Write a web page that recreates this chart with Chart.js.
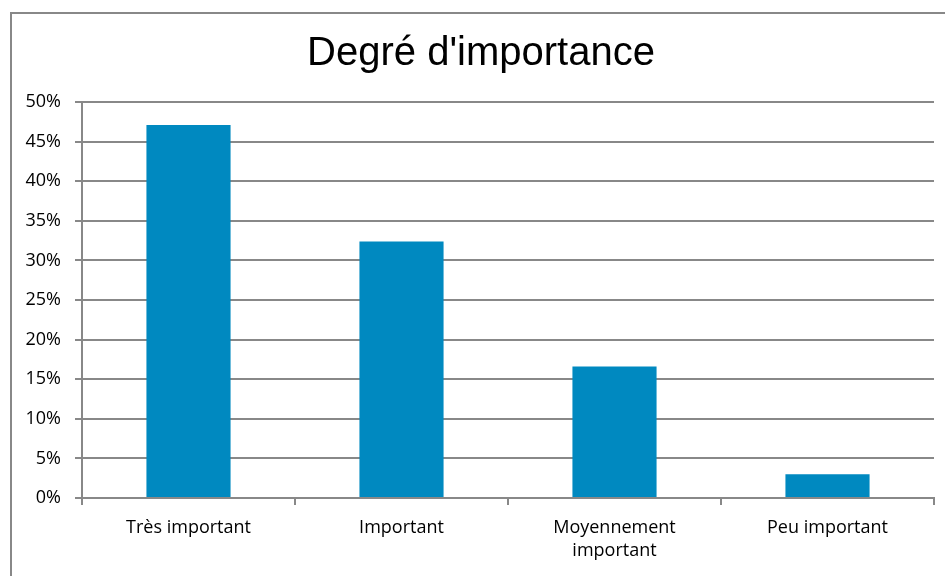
<!DOCTYPE html>
<html>
<head>
<meta charset="utf-8">
<script src="https://cdn.jsdelivr.net/npm/chart.js@4"></script>
<style>
  html, body { margin: 0; padding: 0; background: #fff; }
  #wrap { width: 945px; height: 576px; position: relative; }
</style>
</head>
<body>
<div id="wrap"><canvas id="chart"></canvas></div>
<script>
const categories = ['Très important', 'Important', ['Moyennement', 'important'], 'Peu important'];
const values = [47.1, 32.4, 16.6, 3.0];
const yTicks = [0, 5, 10, 15, 20, 25, 30, 35, 40, 45, 50];

const labelFont = { family: '"Open Sans", "Noto Sans", sans-serif', size: 18, lineHeight: 1.3 };

// outer frame of the chart, and nudge the title a bit to the right
const framePlugin = {
    id: 'frame',
    afterLayout(chart) {
        if (chart.titleBlock) {
            chart.titleBlock.left += 6;
            chart.titleBlock.right += 6;
        }
    },
    beforeDraw(chart) {
        const ctx = chart.ctx;
        ctx.save();
        ctx.strokeStyle = '#888888';
        ctx.lineWidth = 2;
        ctx.strokeRect(11, 13, 960, 600);
        ctx.restore();
    }
};

const config = {
    type: 'bar',
    data: {
        labels: categories,
        datasets: [{
            label: 'Degré d\'importance',
            data: values,
            backgroundColor: '#0089C0',
            borderWidth: 0,
            barPercentage: 0.395,
            categoryPercentage: 1
        }]
    },
    options: {
        responsive: true,
        maintainAspectRatio: false,
        animation: false,
        layout: { padding: { top: 0, left: 16, right: 11, bottom: 0 } },
        plugins: {
            legend: { display: false },
            tooltip: { enabled: false },
            title: {
                display: true,
                text: 'Degré d\'importance',
                color: '#000',
                font: { family: '"Liberation Sans", Arial, sans-serif', size: 40, weight: 'normal', lineHeight: 1.2 },
                padding: { top: 30, bottom: 24 }
            }
        },
        scales: {
            x: {
                offset: true,
                grid: {
                    offset: true,
                    drawOnChartArea: false,
                    drawTicks: true,
                    tickLength: 7,
                    color: '#888888',
                    lineWidth: 2
                },
                border: { color: '#888888', width: 2 },
                ticks: { color: '#000', font: labelFont, padding: 11, maxRotation: 0 },
                afterFit(scale) { scale.height = 78; }
            },
            y: {
                min: 0,
                max: 50,
                afterBuildTicks(scale) { scale.ticks = yTicks.map(v => ({ value: v })); },
                grid: {
                    color: '#888888',
                    lineWidth: 2,
                    drawTicks: true,
                    tickLength: 7
                },
                border: { color: '#888888', width: 2 },
                ticks: {
                    color: '#000',
                    font: labelFont,
                    padding: 14,
                    callback: v => v + '%'
                },
                afterFit(scale) { scale.width = 66; }
            }
        }
    },
    plugins: [framePlugin]
};

new Chart(document.getElementById('chart'), config);
</script>
</body>
</html>
